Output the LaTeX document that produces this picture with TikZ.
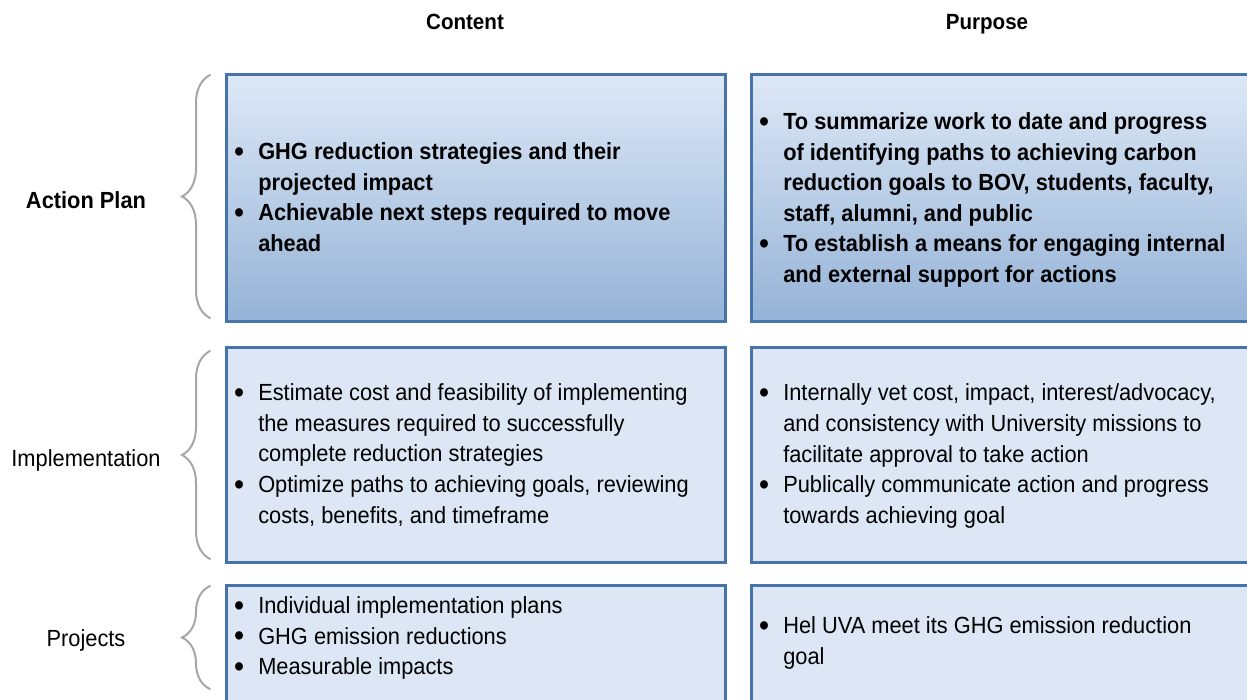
\documentclass[tikz,border=0pt]{standalone}
\usepackage{fontspec}
\setmainfont[FakeStretch=0.935]{Liberation Sans}
\usetikzlibrary{decorations.pathreplacing}

\newlength\pxu
\setlength\pxu{0.75pt}
\definecolor{boxline}{HTML}{4674AA}
\definecolor{boxfill}{HTML}{DCE6F4}
\definecolor{planhi}{HTML}{DDE8F6}
\definecolor{planlo}{HTML}{95B3D7}
\definecolor{bracegray}{HTML}{A6A6A6}
\newcommand{\itm}{\makebox[24\pxu][l]{\bfseries\raisebox{-0.08em}{\scalebox{1.25}{\textbullet}}}}
\newcommand{\cnt}{\hspace*{24\pxu}}

\tikzset{
  cell/.style={draw=boxline, line width=2.5\pxu, fill=boxfill, anchor=north west, inner sep=0pt},
  plancell/.style={cell, top color=planhi, bottom color=planlo},
  celltext/.style={anchor=west, inner sep=0pt, align=left,
    font=\fontsize{17.5pt}{22.9pt}\selectfont},
  rowlabel/.style={anchor=base, inner sep=0pt, font=\fontsize{17.5pt}{22.9pt}\selectfont},
  colhead/.style={anchor=base, inner sep=0pt, font=\fontsize{16.5pt}{20pt}\selectfont\bfseries},
  rowbrace/.style={draw=bracegray, line width=2\pxu, line cap=round,
    decorate, decoration={brace, amplitude=28\pxu}}
}

\begin{document}
\begin{tikzpicture}[x=\pxu, y=-\pxu]
  \useasboundingbox (0,0) rectangle (1247,700);

  % column heads
  \node[colhead] (hcontent) at (465,29) {Content};
  \node[colhead] (hpurpose) at (987,29) {Purpose};

  % action plan
  \node[plancell, minimum width=499\pxu, minimum height=247\pxu] (planC) at (225,73) {};
  \node[plancell, minimum width=510\pxu, minimum height=247\pxu] (planP) at (750,73) {};
  \node[celltext, font=\fontsize{17.5pt}{22.9pt}\selectfont\bfseries] (planCtxt) at (234,197)
    {\itm GHG reduction strategies and their\\
     \cnt projected impact\\
     \itm Achievable next steps required to move\\
     \cnt ahead};
  \node[celltext, font=\fontsize{17.5pt}{22.9pt}\selectfont\bfseries] (planPtxt) at (759,200)
    {\itm To summarize work to date and progress\\
     \cnt of identifying paths to achieving carbon\\
     \cnt reduction goals to BOV, students, faculty,\\
     \cnt staff, alumni, and public\\
     \itm To establish a means for engaging internal\\
     \cnt and external support for actions};
  \node[rowlabel, font=\fontsize{17.5pt}{22.9pt}\selectfont\bfseries] (lplan) at (86,208) {Action Plan};
  \draw[rowbrace] (210,318) -- (210,75);

  % implementation
  \node[cell, minimum width=499\pxu, minimum height=215\pxu] (implC) at (225,346) {};
  \node[cell, minimum width=510\pxu, minimum height=215\pxu] (implP) at (750,346) {};
  \node[celltext] (implCtxt) at (234,455)
    {\itm Estimate cost and feasibility of implementing\\
     \cnt the measures required to successfully\\
     \cnt complete reduction strategies\\
     \itm Optimize paths to achieving goals, reviewing\\
     \cnt costs, benefits, and timeframe};
  \node[celltext] (implPtxt) at (759,456)
    {\itm Internally vet cost, impact, interest/advocacy,\\
     \cnt and consistency with University missions to\\
     \cnt facilitate approval to take action\\
     \itm Publically communicate action and progress\\
     \cnt towards achieving goal};
  \node[rowlabel] (limpl) at (86,466) {Implementation};
  \draw[rowbrace] (210,559) -- (210,351);

  % projects
  \node[cell, minimum width=499\pxu, minimum height=130\pxu] (projC) at (225,584) {};
  \node[cell, minimum width=510\pxu, minimum height=130\pxu] (projP) at (750,584) {};
  \node[celltext] (projCtxt) at (234,638)
    {\itm Individual implementation plans\\
     \itm GHG emission reductions\\
     \itm Measurable impacts};
  \node[celltext] (projPtxt) at (759,643)
    {\itm Hel UVA meet its GHG emission reduction\\
     \cnt goal};
  \node[rowlabel] (lproj) at (86,646) {Projects};
  \draw[rowbrace] (210,689) -- (210,586);
\end{tikzpicture}
\end{document}
